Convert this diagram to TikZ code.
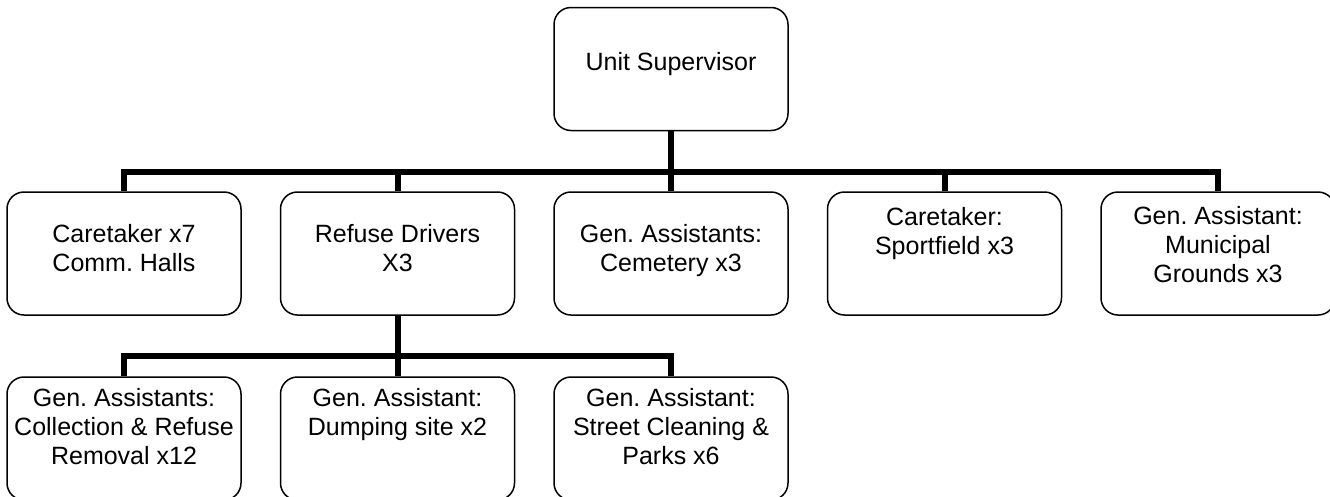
\documentclass[tikz,border=0pt]{standalone}
\usepackage{fontspec}
\setmainfont{Liberation Sans}
% fixed-height strut so every label hangs from its first baseline
\newcommand\lnstrut{\rule{0pt}{21pt}}
\begin{document}
\frenchspacing
\begin{tikzpicture}[x=1pt,y=-1pt,
  box/.style={draw, line width=1.5pt, rounded corners=17pt,
    minimum width=234pt, minimum height=123pt, inner sep=0pt},
  lbl/.style={font=\fontsize{25}{29}\selectfont, align=center,
    inner sep=0pt, anchor=north},
  conn/.style={line width=6pt}]
\useasboundingbox (0,0) rectangle (1330,496);
\clip (0,0) rectangle (1330,496);

% boxes
\node[box] (top) at (671,69) {};
\node[box] (b1) at (124,253.5) {};
\node[box] (b2) at (397.5,253.5) {};
\node[box] (b3) at (671,253.5) {};
\node[box] (b4) at (944.5,253.5) {};
\node[box] (b5) at (1218,253.5) {};
\node[box] (c1) at (124,438.5) {};
\node[box] (c2) at (397.5,438.5) {};
\node[box] (c3) at (671,438.5) {};

% labels
\node[lbl] (tU) at (671,49) {\lnstrut Unit Supervisor};
\node[lbl] (t1) at (124,221) {\lnstrut Caretaker x7\\Comm. Halls};
\node[lbl] (t2) at (397.5,221) {\lnstrut Refuse Drivers\\X3};
\node[lbl] (t3) at (671,221) {\lnstrut Gen. Assistants:\\Cemetery x3};
\node[lbl] (t4) at (944.5,204) {\lnstrut Caretaker:\\Sportfield x3};
\node[lbl] (t5) at (1218,203) {\lnstrut Gen. Assistant:\\Municipal\\Grounds x3};
\node[lbl] (s1) at (124,385) {\lnstrut Gen. Assistants:\\Collection \& Refuse\\Removal x12};
\node[lbl] (s2) at (397.5,385) {\lnstrut Gen. Assistant:\\Dumping site x2};
\node[lbl] (s3) at (671,385) {\lnstrut Gen. Assistant:\\Street Cleaning \&\\Parks x6};

% connector bus levels
\coordinate (bar) at (0,172);
\coordinate (bar2) at (0,356);

% first level
\draw[conn] (top.south) -- (b3.north);
\draw[conn] (b1.north) -- (b1.north |- bar) -- (b5.north |- bar) -- (b5.north);
\draw[conn] (b2.north) -- (b2.north |- bar);
\draw[conn] (b4.north) -- (b4.north |- bar);

% second level
\draw[conn] (b2.south) -- (c2.north);
\draw[conn] (c1.north) -- (c1.north |- bar2) -- (c3.north |- bar2) -- (c3.north);
\end{tikzpicture}
\end{document}
